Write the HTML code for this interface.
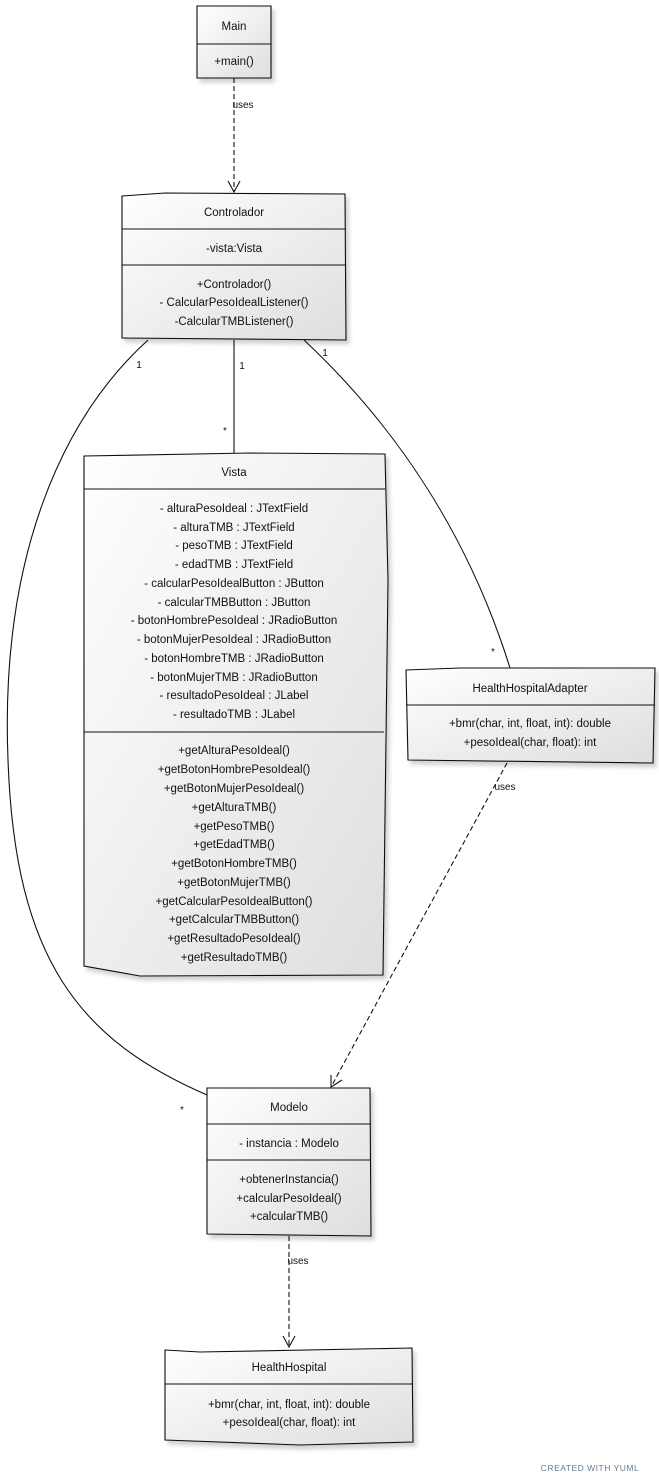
<!DOCTYPE html>
<html><head><meta charset="utf-8"><style>
html,body{margin:0;padding:0;background:#fff;}
svg{display:block;}
text{font-family:"Liberation Sans",sans-serif;font-size:11.5px;fill:#111;text-anchor:middle;}
.s{font-size:10px;}
</style></head><body>
<svg width="659" height="1483" viewBox="0 0 659 1483" xmlns="http://www.w3.org/2000/svg">
<defs>
<linearGradient id="g" x1="0" y1="0" x2="1" y2="1"><stop offset="0" stop-color="#ffffff"/><stop offset="1" stop-color="#dedede"/></linearGradient>
<filter id="sh" x="-10%" y="-10%" width="130%" height="130%"><feDropShadow dx="3" dy="4" stdDeviation="2" flood-color="#000" flood-opacity="0.18"/></filter>
</defs>
<g fill="none" stroke="#111" stroke-width="1.1">
<path d="M234 78 V191" stroke-dasharray="5,3"/>
<path d="M228 181 L234 192 L240 181"/>
<path d="M234 340 V453"/>
<path d="M148 340 C60 420 0 560 8 760 C15 960 80 1040 207 1095"/>
<path d="M304 340 C400 430 470 540 510 668"/>
<path d="M507 763 L331 1087" stroke-dasharray="5,3"/>
<path d="M331 1075 L331 1087 L342 1080"/>
<path d="M289 1236 V1346" stroke-dasharray="5,3"/>
<path d="M283 1336 L289 1347 L295 1336"/>
</g>
<g stroke="#111" stroke-width="1.1" fill="url(#g)" filter="url(#sh)">
<path d="M197 6 L271 6 L271 78 L197 78 Z"/>
<path d="M122 196 L165 193 L345 194 L346 340 L122 338 Z"/>
<path d="M84 456 L250 453 L385 454 L388 580 L383 975 L140 976 L84 966 Z"/>
<path d="M406 670 L460 668 L655 668 L653 763 L408 760 Z"/>
<path d="M207 1088 L370 1088 L371 1236 L207 1234 Z"/>
<path d="M165 1350 L200 1352 L412 1348 L413 1442 L300 1445 L165 1440 Z"/>
</g>
<g stroke="#111" stroke-width="1.1">
<path d="M197 44 H271"/>
<path d="M122 229 H346 M122 265 H346"/>
<path d="M84 489 H385 M84 732 H384"/>
<path d="M406 705 H655"/>
<path d="M207 1124 H371 M207 1160 H371"/>
<path d="M165 1384 H413"/>
</g>
<text x="234" y="30">Main</text>
<text x="234" y="65">+main()</text>
<text class="s" x="243" y="108">uses</text>
<text x="234" y="216">Controlador</text>
<text x="234" y="252">-vista:Vista</text>
<text x="234" y="288">+Controlador()</text>
<text x="234" y="306">- CalcularPesoIdealListener()</text>
<text x="234" y="325">-CalcularTMBListener()</text>
<text class="s" x="139" y="368">1</text>
<text class="s" x="242" y="369">1</text>
<text class="s" x="325" y="356">1</text>
<text class="s" x="225" y="434">*</text>
<text class="s" x="493" y="655">*</text>
<text class="s" x="182" y="1113">*</text>
<text x="234" y="476">Vista</text>
<text x="234" y="512">- alturaPesoIdeal : JTextField</text>
<text x="234" y="531">- alturaTMB : JTextField</text>
<text x="234" y="549">- pesoTMB : JTextField</text>
<text x="234" y="568">- edadTMB : JTextField</text>
<text x="234" y="587">- calcularPesoIdealButton : JButton</text>
<text x="234" y="606">- calcularTMBButton : JButton</text>
<text x="234" y="624">- botonHombrePesoIdeal : JRadioButton</text>
<text x="234" y="643">- botonMujerPesoIdeal : JRadioButton</text>
<text x="234" y="662">- botonHombreTMB : JRadioButton</text>
<text x="234" y="681">- botonMujerTMB : JRadioButton</text>
<text x="234" y="699">- resultadoPesoIdeal : JLabel</text>
<text x="234" y="718">- resultadoTMB : JLabel</text>
<text x="234" y="754">+getAlturaPesoIdeal()</text>
<text x="234" y="773">+getBotonHombrePesoIdeal()</text>
<text x="234" y="792">+getBotonMujerPesoIdeal()</text>
<text x="234" y="811">+getAlturaTMB()</text>
<text x="234" y="830">+getPesoTMB()</text>
<text x="234" y="848">+getEdadTMB()</text>
<text x="234" y="867">+getBotonHombreTMB()</text>
<text x="234" y="886">+getBotonMujerTMB()</text>
<text x="234" y="905">+getCalcularPesoIdealButton()</text>
<text x="234" y="923">+getCalcularTMBButton()</text>
<text x="234" y="942">+getResultadoPesoIdeal()</text>
<text x="234" y="961">+getResultadoTMB()</text>
<text x="530" y="692">HealthHospitalAdapter</text>
<text x="530" y="727">+bmr(char, int, float, int): double</text>
<text x="530" y="746">+pesoIdeal(char, float): int</text>
<text class="s" x="505" y="790">uses</text>
<text x="289" y="1111">Modelo</text>
<text x="289" y="1147">- instancia : Modelo</text>
<text x="289" y="1183">+obtenerInstancia()</text>
<text x="289" y="1202">+calcularPesoIdeal()</text>
<text x="289" y="1220">+calcularTMB()</text>
<text class="s" x="298" y="1264">uses</text>
<text x="289" y="1371">HealthHospital</text>
<text x="289" y="1408">+bmr(char, int, float, int): double</text>
<text x="289" y="1426">+pesoIdeal(char, float): int</text>
<text x="590" y="1471" style="font-size:8.5px;fill:#6a7a90;letter-spacing:0.5px">CREATED WITH YUML</text>
</svg>
</body></html>
